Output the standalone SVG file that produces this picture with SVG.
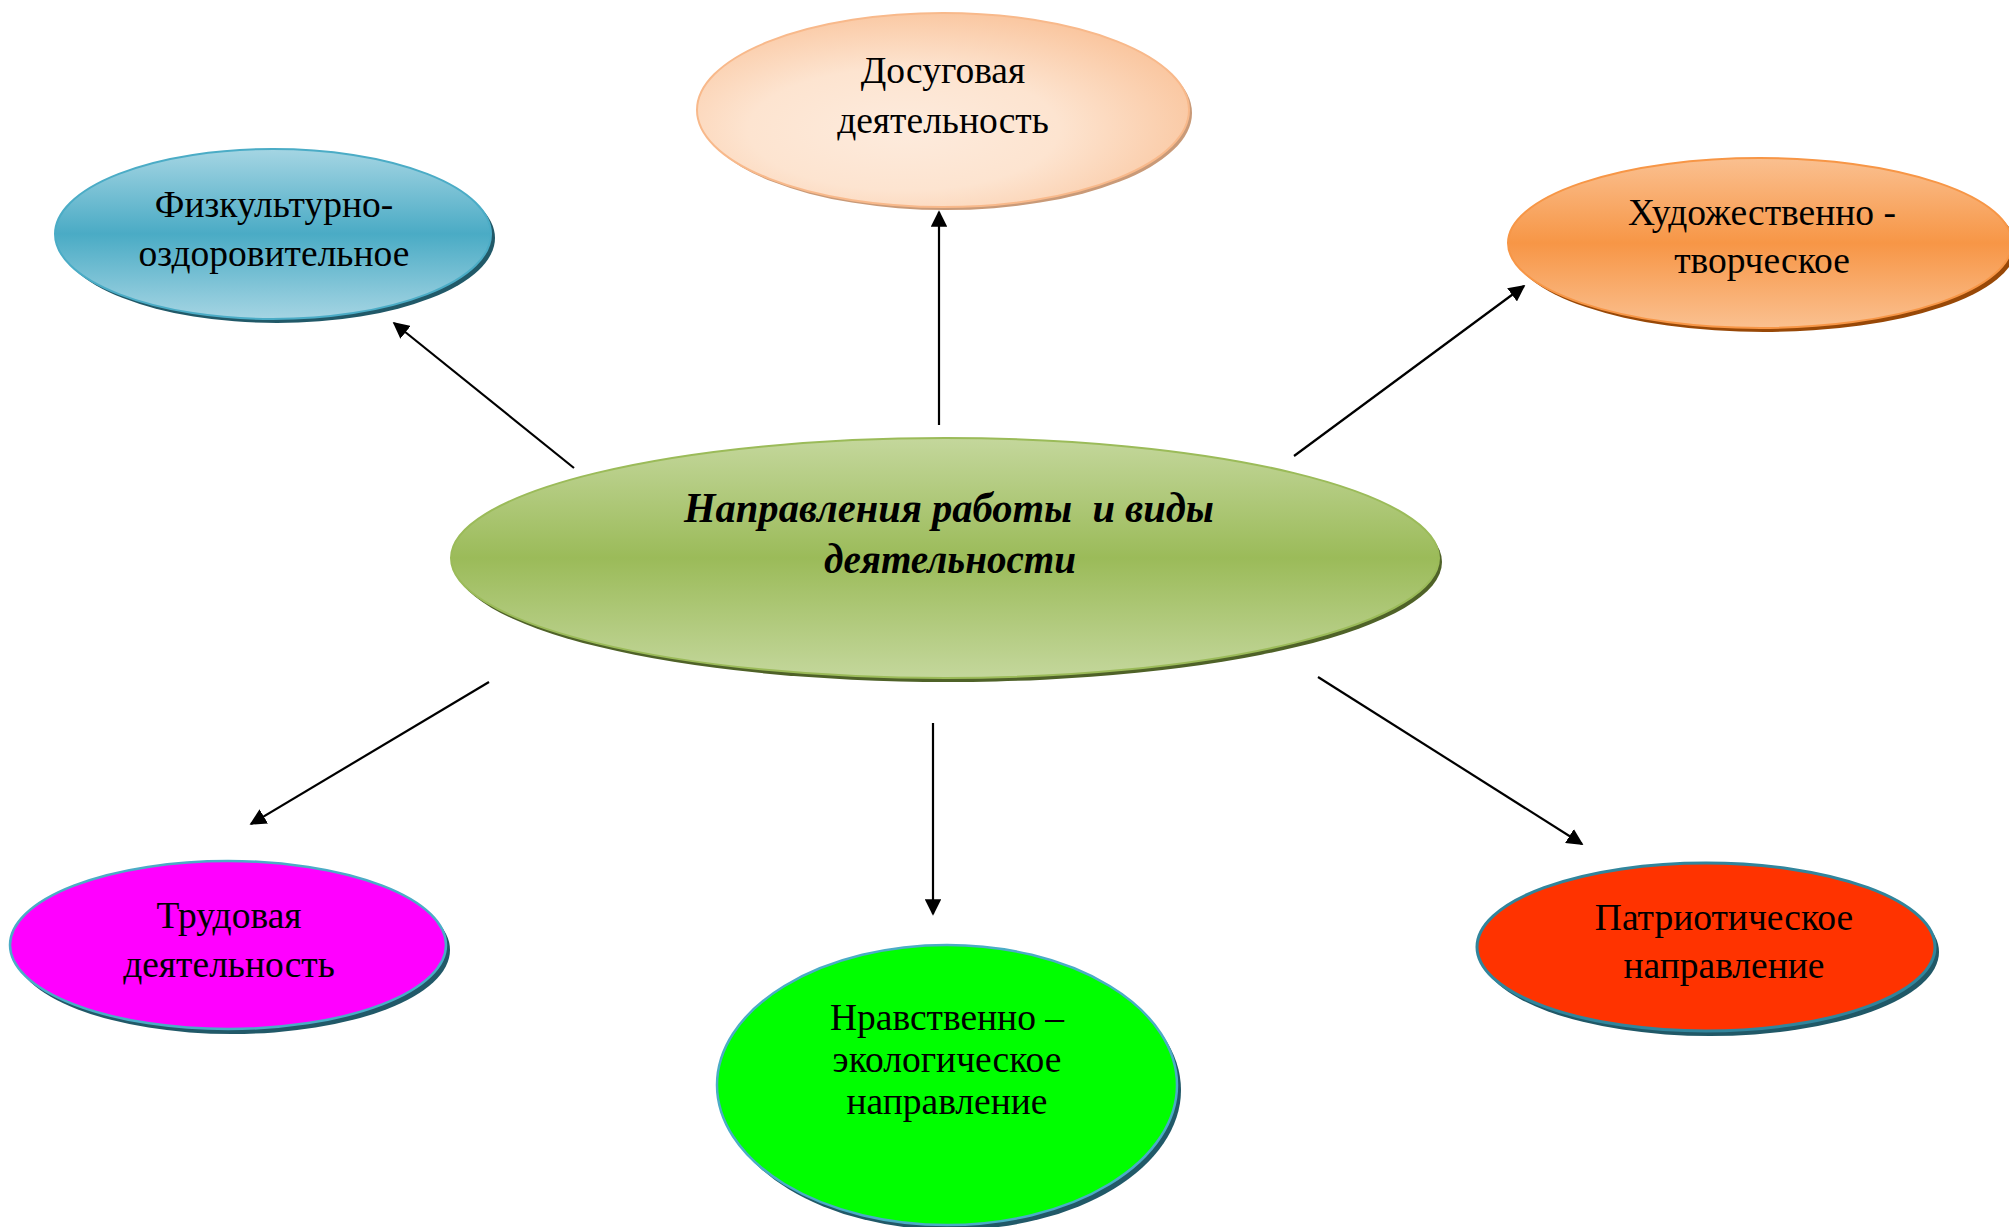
<svg xmlns="http://www.w3.org/2000/svg" width="2009" height="1227" viewBox="0 0 2009 1227">
<defs>
<linearGradient id="gBlue" x1="0" y1="0" x2="0" y2="1">
<stop offset="0" stop-color="#a5d5e3"/><stop offset="0.5" stop-color="#4aabc5"/><stop offset="1" stop-color="#a5d5e3"/>
</linearGradient>
<radialGradient id="gPeach" cx="0.42" cy="0.6" r="0.7">
<stop offset="0" stop-color="#fdebdd"/><stop offset="0.45" stop-color="#fde4d0"/><stop offset="1" stop-color="#f9bf94"/>
</radialGradient>
<linearGradient id="gOrange" x1="0" y1="0" x2="0" y2="1">
<stop offset="0" stop-color="#fac090"/><stop offset="0.5" stop-color="#f79646"/><stop offset="1" stop-color="#fac090"/>
</linearGradient>
<linearGradient id="gOlive" x1="0" y1="0" x2="0" y2="1">
<stop offset="0" stop-color="#c4d79c"/><stop offset="0.5" stop-color="#9bbb59"/><stop offset="1" stop-color="#c4d79c"/>
</linearGradient>
<marker id="arr" viewBox="0 0 10 10" refX="9" refY="5" markerWidth="7.5" markerHeight="7.5" markerUnits="strokeWidth" orient="auto">
<path d="M0,0 L10,5 L0,10 z" fill="#000"/>
</marker>
</defs>
<style>
.lbl{font-family:"Liberation Serif","Times New Roman",serif;font-size:37.5px;fill:#000;text-anchor:middle}
.ttl{font-family:"Liberation Serif","Times New Roman",serif;font-size:43px;font-style:italic;font-weight:bold;fill:#000;text-anchor:middle;white-space:pre}
.con{stroke:#000;stroke-width:2.2;fill:none;marker-end:url(#arr)}
</style>
<rect width="2009" height="1227" fill="#fff"/>

<g id="connectors">
<line class="con" x1="939" y1="425" x2="939" y2="212"/>
<line class="con" x1="574" y1="468" x2="394" y2="323"/>
<line class="con" x1="1294" y1="456" x2="1524" y2="286"/>
<line class="con" x1="489" y1="682" x2="251" y2="824"/>
<line class="con" x1="933" y1="723" x2="933" y2="914"/>
<line class="con" x1="1318" y1="677" x2="1582" y2="844"/>
</g>

<g id="node-center">
<ellipse cx="948" cy="562" rx="494" ry="120" fill="#4f6228"/>
<ellipse cx="945" cy="558" rx="494" ry="120" fill="url(#gOlive)" stroke="#9bbb59" stroke-width="2"/>
<text class="ttl" x="949" y="522" textLength="530" lengthAdjust="spacingAndGlyphs">Направления работы  и виды</text>
<text class="ttl" x="950" y="573" textLength="252" lengthAdjust="spacingAndGlyphs">деятельности</text>
</g>

<g id="node-dosug">
<ellipse cx="946" cy="113" rx="246" ry="97" fill="#c99a78"/>
<ellipse cx="943" cy="110" rx="246" ry="97" fill="url(#gPeach)" stroke="#f8b98b" stroke-width="2"/>
<text class="lbl" x="943" y="83">Досуговая</text>
<text class="lbl" x="943" y="133">деятельность</text>
</g>

<g id="node-fiz">
<ellipse cx="277" cy="238" rx="218" ry="85" fill="#215968"/>
<ellipse cx="273" cy="234" rx="218" ry="85" fill="url(#gBlue)" stroke="#4bacc6" stroke-width="2"/>
<text class="lbl" x="274" y="217">Физкультурно-</text>
<text class="lbl" x="274" y="266">оздоровительное</text>
</g>

<g id="node-hud">
<ellipse cx="1764" cy="247" rx="252" ry="85" fill="#984807"/>
<ellipse cx="1760" cy="243" rx="252" ry="85" fill="url(#gOrange)" stroke="#f79646" stroke-width="2"/>
<text class="lbl" x="1762" y="225">Художественно -</text>
<text class="lbl" x="1762" y="273">творческое</text>
</g>

<g id="node-trud">
<ellipse cx="232" cy="950" rx="218" ry="84" fill="#215968"/>
<ellipse cx="228" cy="945" rx="218" ry="84" fill="#ff00ff" stroke="#4bacc6" stroke-width="2.5"/>
<text class="lbl" x="229" y="928">Трудовая</text>
<text class="lbl" x="229" y="977">деятельность</text>
</g>

<g id="node-nrav">
<ellipse cx="951" cy="1090" rx="230" ry="140" fill="#215968"/>
<ellipse cx="947" cy="1085" rx="230" ry="140" fill="#00ff00" stroke="#4bacc6" stroke-width="2.5"/>
<text class="lbl" x="947" y="1030">Нравственно –</text>
<text class="lbl" x="947" y="1072">экологическое</text>
<text class="lbl" x="947" y="1114">направление</text>
</g>

<g id="node-patr">
<ellipse cx="1710" cy="952" rx="229" ry="84" fill="#205867"/>
<ellipse cx="1706" cy="947" rx="229" ry="84" fill="#ff3300" stroke="#31859c" stroke-width="3"/>
<text class="lbl" x="1724" y="930">Патриотическое</text>
<text class="lbl" x="1724" y="978">направление</text>
</g>
</svg>
